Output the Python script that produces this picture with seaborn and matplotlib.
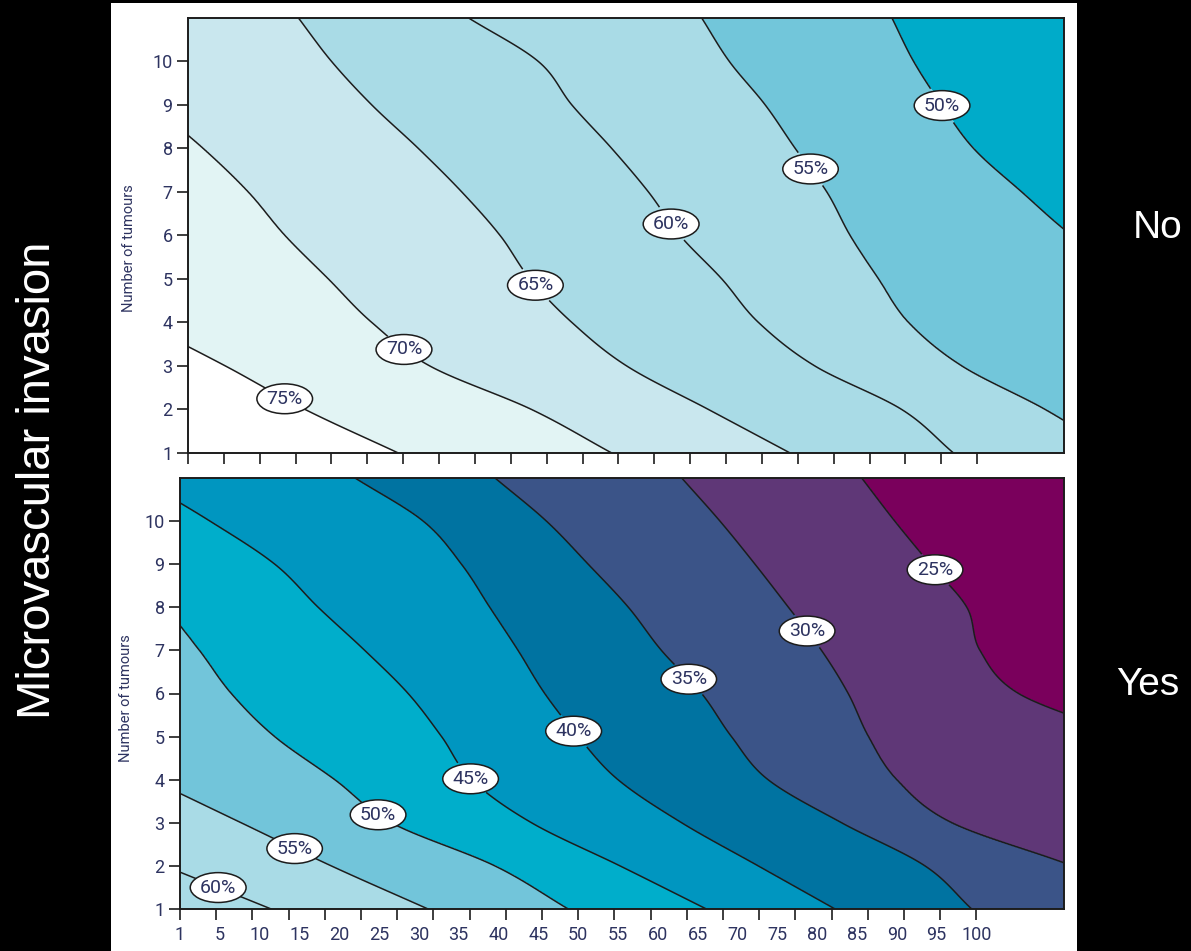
import numpy as np
import matplotlib
matplotlib.use('Agg')
import matplotlib.pyplot as plt
from matplotlib.patches import Rectangle
import seaborn as sns

# rows of the grid: number of tumours
ROWS = [1, 2, 3, 4, 5, 6, 7, 8, 9, 10, 11]
# x axis categories (tumour size), shown at equally spaced positions 0..20
SIZE_LABELS = ["1", "5", "10", "15", "20", "25", "30", "35", "40", "45", "50",
               "55", "60", "65", "70", "75", "80", "85", "90", "95", "100"]

# where each survival contour crosses each row (x in category-position units)
# Microvascular invasion: No
TOP_LEVELS = [75, 70, 65, 60, 55, 50]
top_75 = [5.33, 2.97, 0.95, -1.2, -3.4, -5.6, -7.8, -10.0, -12.0, -14.0, -16.0]
top_70 = [10.74, 8.71, 6.13, 4.66, 3.56, 2.46, 1.53, 0.39, -0.92, -2.2, -3.5]
top_65 = [15.26, 13.19, 11.12, 9.73, 8.67, 7.91, 6.94, 5.84, 4.66, 3.64, 2.80]
top_60 = [19.40, 18.09, 15.89, 14.46, 13.53, 12.47, 11.67, 10.74, 9.73, 8.88, 7.11]
top_55 = [23.5, 21.72, 19.61, 18.26, 17.50, 16.78, 16.19, 15.39, 14.63, 13.72, 13.02]
top_50 = [30.0, 28.5, 27.0, 25.5, 24.0, 22.4, 21.13, 19.91, 19.10, 18.39, 17.84]

# Microvascular invasion: Yes
BOT_LEVELS = [60, 55, 50, 45, 40, 35, 30, 25]
bot_60 = [2.29, -0.39, -3.1, -5.5, -8.0, -10.0, -12.0, -14.0, -16.0, -18.0, -20.0]
bot_55 = [6.23, 3.80, 1.54, -0.72, -3.0, -5.0, -7.0, -9.0, -11.0, -13.0, -15.0]
bot_50 = [9.75, 7.91, 5.31, 3.89, 2.38, 1.29, 0.49, -0.39, -1.5, -2.7, -4.0]
bot_45 = [13.22, 11.05, 8.83, 7.32, 6.57, 5.73, 4.64, 3.47, 2.38, 0.75, -1.06]
bot_40 = [16.45, 14.52, 12.6, 11.0, 10.0, 9.16, 8.49, 7.78, 7.07, 6.11, 4.4]
bot_35 = [19.88, 18.71, 16.62, 14.77, 13.85, 13.1, 12.09, 11.26, 10.25, 9.2, 7.91]
bot_30 = [25.0, 22.4, 19.38, 18.0, 17.29, 16.78, 16.11, 15.28, 14.44, 13.56, 12.6]
bot_25 = [30.0, 28.5, 27.0, 25.5, 23.7, 21.06, 20.09, 19.76, 18.84, 17.95, 17.12]

TOP_LABEL_AT = [(2.46, 2.26), (5.5, 3.41), (8.71, 4.79), (12.22, 6.25), (15.81, 7.55), (19.15, 9.01)]
BOT_LABEL_AT = [(0.95, 1.48), (2.84, 2.33), (4.97, 3.18), (7.4, 4.11), (9.92, 5.15),
                (12.8, 6.35), (15.78, 7.47), (18.96, 8.87)]

TOP_COLORS = ['#00abc9', '#72c6da', '#a9dbe6', '#a9dbe6', '#c9e7ee', '#e2f4f4', '#ffffff']
BOT_COLORS = ['#7a005c', '#5f3777', '#3b5488', '#0073a1', '#0096c0', '#00aecb',
              '#72c5da', '#a9dbe6', '#a9dbe6']

sns.set_style('ticks')
plt.rcParams['font.family'] = ['Roboto', 'DejaVu Sans']
TXT = '#2d3360'


def smooth_through(vals, yg):
    # cubic (Catmull-Rom) curve through the read crossings, rows are 1 apart
    v = np.asarray(vals, dtype=float)
    m = np.gradient(v)
    i = np.clip(np.floor(yg - ROWS[0]).astype(int), 0, len(v) - 2)
    t = yg - ROWS[0] - i
    h00 = 2 * t ** 3 - 3 * t ** 2 + 1
    h10 = t ** 3 - 2 * t ** 2 + t
    h01 = -2 * t ** 3 + 3 * t ** 2
    h11 = t ** 3 - t ** 2
    return h00 * v[i] + h10 * m[i] + h01 * v[i + 1] + h11 * m[i + 1]


def build_field(levels, crossings, xg, yg):
    # value on a grid, taken from the read contour crossings
    z = np.zeros((len(yg), len(xg)))
    step = levels[0] - levels[1]
    k = np.arange(1, 9)
    fp = np.array(levels, dtype=float)
    fs = np.concatenate([(fp[0] + k * step)[::-1], fp, fp[-1] - k * step])
    curves = np.array([smooth_through(c, yg) for c in crossings])
    for r in range(len(yg)):
        xp = curves[:, r]
        dl, dr = xp[1] - xp[0], xp[-1] - xp[-2]
        xs = np.concatenate([(xp[0] - k * dl)[::-1], xp, xp[-1] + k * dr])
        z[r] = np.interp(xg, xs, fs)
    return z


def draw_panel(ax, levels, crossings, colors, label_at, show_xlabels):
    xg = np.linspace(-0.5, 22.8, 1200)
    yg = np.linspace(1, 11, 401)
    z = build_field(levels, crossings, xg, yg)
    lv = sorted(levels)
    bounds = [-1000] + lv + [1000]
    ax.contourf(xg, yg, z, levels=bounds, colors=colors)
    cs = ax.contour(xg, yg, z, levels=lv, colors='#1c1c1c', linewidths=1.1)
    texts = cs.clabel(fmt='%d%%', manual=label_at, inline=True, inline_spacing=2,
                      fontsize=14, colors=TXT)
    for t in texts:
        t.set_rotation(0)
        t.set_bbox(dict(boxstyle='ellipse,pad=0.08', fc='white', ec='#1c1c1c', lw=1.1))
    ax.set_xlim(0, 22.2)
    ax.set_ylim(1, 11)
    ax.xaxis.remove_overlapping_locs = False
    ax.set_xticks(np.arange(23) * 20 / 22, minor=True)
    ax.tick_params(axis='x', which='minor', direction='out', length=8, width=1.2,
                   color='#1c1c1c')
    if show_xlabels:
        ax.set_xticks(np.arange(21), labels=SIZE_LABELS)
    else:
        ax.set_xticks([])
    ax.tick_params(axis='x', which='major', length=0, pad=12, labelsize=13, labelcolor=TXT)
    ax.set_yticks(range(1, 11))
    ax.tick_params(axis='y', which='major', direction='out', length=8, width=1.2,
                   color='#1c1c1c', labelsize=13, labelcolor=TXT, pad=3)
    for s in ax.spines.values():
        s.set_visible(True)
        s.set_color('#1c1c1c')
        s.set_linewidth(1.4)
    ax.set_ylabel('Number of tumours', fontsize=10.5, color=TXT)


fig = plt.figure(figsize=(11.91, 9.51), dpi=100, facecolor='black')
fig.add_artist(Rectangle((111 / 1191, 0), 966 / 1191, 948 / 951, transform=fig.transFigure,
                         facecolor='white', edgecolor='none', zorder=-10))

ax_top = fig.add_axes([188 / 1191, 1 - 453 / 951, 876 / 1191, 435 / 951])
ax_bot = fig.add_axes([180 / 1191, 1 - 909 / 951, 884 / 1191, 431 / 951])

draw_panel(ax_top, TOP_LEVELS, [top_75, top_70, top_65, top_60, top_55, top_50],
           TOP_COLORS, TOP_LABEL_AT, False)
draw_panel(ax_bot, BOT_LEVELS, [bot_60, bot_55, bot_50, bot_45, bot_40, bot_35, bot_30, bot_25],
           BOT_COLORS, BOT_LABEL_AT, True)
ax_top.yaxis.set_label_coords(-0.059, 0.47)
ax_bot.yaxis.set_label_coords(-0.053, 0.49)

fig.text(38 / 1191, 1 - 480 / 951, 'Microvascular invasion', rotation=90, color='white',
         fontsize=34, ha='center', va='center', family='Liberation Sans')
fig.text(1158 / 1191, 1 - 228 / 951, 'No', color='white', fontsize=28,
         ha='center', va='center', family='Liberation Sans')
fig.text(1148 / 1191, 1 - 685 / 951, 'Yes', color='white', fontsize=28,
         ha='center', va='center', family='Liberation Sans')

fig.savefig('out.png', dpi=100, facecolor='black')
